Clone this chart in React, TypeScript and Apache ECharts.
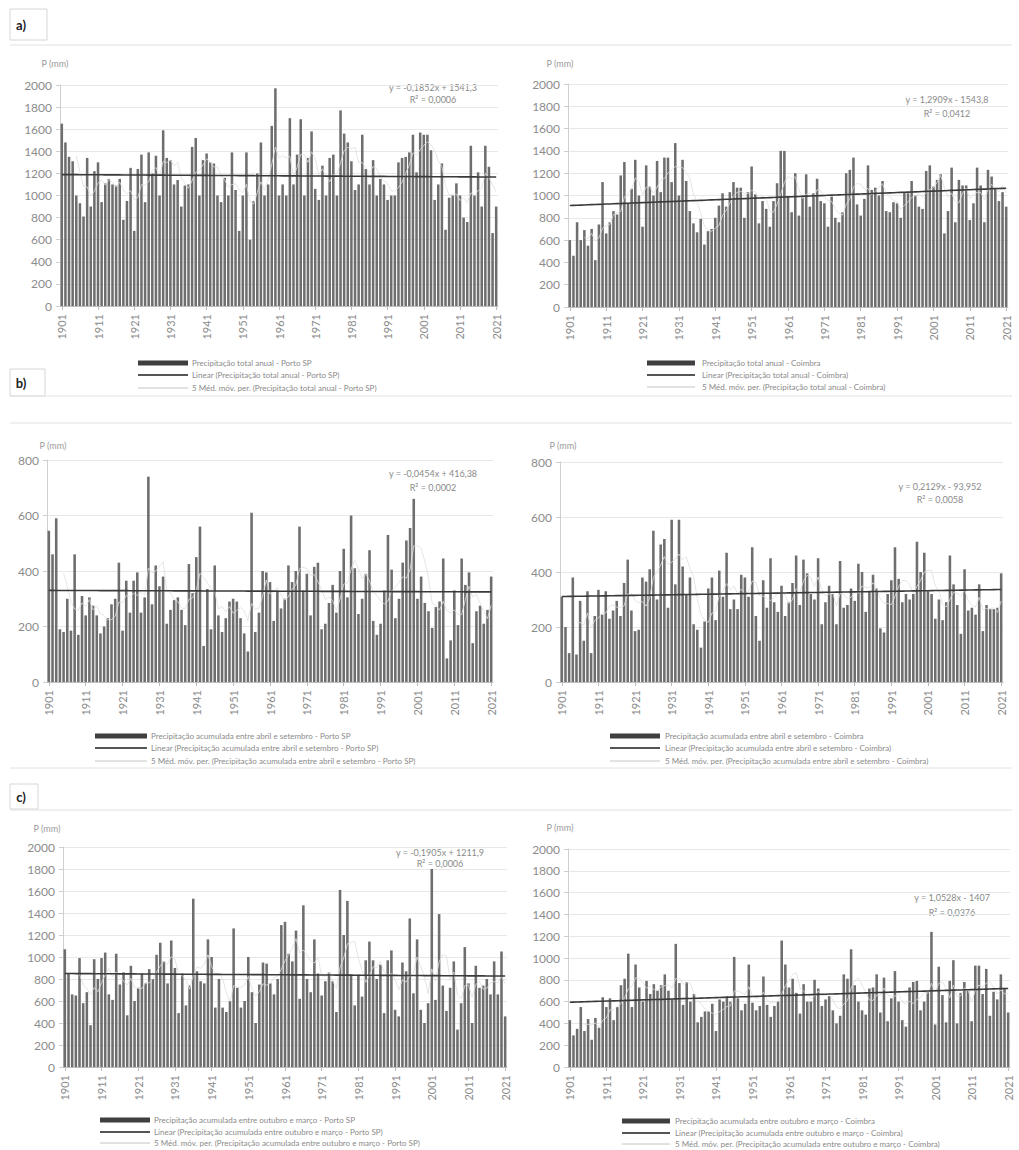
import React, { useEffect, useRef } from "react";
import * as echarts from "echarts";

// ---------- DATA ----------
const YEARS: string[] = [];
for (let y = 1901; y <= 2021; y++) YEARS.push(String(y));

const annualPortoSP = [
  1650, 1480, 1350, 1310, 1000, 930, 810, 1340, 900, 1220,
  1300, 940, 1110, 1150, 1100, 1090, 1150, 780, 950, 1250,
  680, 1240, 1370, 940, 1390, 1200, 1360, 1000, 1590, 1340,
  1320, 1100, 1140, 900, 1090, 1100, 1440, 1520, 1000, 1320,
  1380, 1300, 1290, 1000, 940, 1160, 1000, 1390, 1050, 680,
  1000, 1390, 600, 950, 1200, 1480, 1000, 1100, 1630, 1970,
  1000, 1100, 1000, 1700, 1100, 1370, 1690, 1000, 1340, 1580,
  1060, 960, 1270, 1000, 1340, 1370, 1000, 1770, 1560, 1480,
  1310, 1050, 1100, 1550, 1240, 1100, 1320, 1000, 1150, 1100,
  960, 1000, 1000, 1300, 1340, 1350, 1390, 1550, 1210, 1570,
  1550, 1550, 1410, 960, 1100, 1290, 690, 980, 1000, 1110,
  1000, 800, 760, 1450, 1000, 1210, 900, 1450, 1260, 660,
  900,
];

const annualCoimbra = [
  600, 460, 760, 600, 690, 550, 700, 420, 740, 1120,
  660, 760, 860, 830, 1180, 1300, 930, 1060, 1320, 1000,
  720, 1270, 1080, 1000, 1310, 1030, 1340, 1340, 1120, 1470,
  1000, 1320, 1130, 860, 750, 670, 790, 560, 680, 700,
  800, 910, 1020, 900, 1030, 1120, 1070, 1070, 800, 1030,
  1260, 1010, 750, 950, 880, 720, 950, 1110, 1400, 1400,
  990, 850, 1200, 820, 1000, 1190, 900, 1020, 1150, 950,
  930, 720, 990, 800, 760, 850, 1200, 1230, 1340, 920,
  820, 970, 1270, 1050, 1070, 1000, 1130, 860, 850, 940,
  930, 800, 1030, 1020, 1130, 1000, 900, 880, 1220, 1270,
  1080, 1140, 1190, 660, 860, 1250, 760, 1140, 1090, 1090,
  780, 930, 1250, 1090, 760, 1230, 1170, 1060, 950, 1030,
  900,
];

const aprSepPortoSP = [
  545, 460, 590, 190, 180, 300, 185, 460, 170, 310,
  240, 305, 275, 240, 175, 200, 230, 280, 300, 430,
  185, 365, 250, 365, 395, 250, 305, 740, 280, 420,
  345, 380, 210, 260, 295, 305, 260, 205, 425, 320,
  450, 560, 130, 335, 190, 420, 240, 180, 230, 290,
  300, 290, 230, 175, 110, 610, 180, 250, 400, 395,
  360, 220, 330, 265, 300, 420, 360, 400, 560, 330,
  390, 240, 415, 430, 190, 210, 285, 350, 250, 400,
  480, 305, 600, 410, 245, 300, 390, 475, 220, 170,
  210, 330, 530, 405, 230, 300, 430, 510, 555, 660,
  300, 380, 285, 255, 195, 270, 290, 445, 85, 150,
  330, 205, 445, 350, 395, 140, 255, 275, 210, 260,
  380,
];

const aprSepCoimbra = [
  310, 200, 105, 380, 100, 295, 150, 330, 105, 240,
  335, 245, 330, 230, 260, 295, 240, 360, 445, 260,
  185, 190, 380, 365, 410, 550, 300, 500, 520, 270,
  590, 355, 590, 420, 320, 380, 210, 190, 125, 220,
  340, 380, 225, 405, 310, 470, 265, 300, 265, 390,
  380, 310, 490, 240, 150, 370, 270, 450, 290, 255,
  350, 240, 290, 360, 460, 280, 445, 395, 320, 300,
  450, 210, 290, 350, 320, 210, 440, 270, 280, 340,
  295, 430, 400, 255, 330, 390, 340, 195, 180, 320,
  370, 490, 375, 290, 320, 300, 320, 510, 400, 470,
  330, 320, 230, 300, 225, 290, 460, 355, 280, 175,
  410, 260, 270, 245, 355, 185, 280, 265, 265, 270,
  395,
];

const octMarPortoSP = [
  1070, 850, 660, 650, 990, 580, 680, 380, 980, 800,
  990, 1040, 660, 610, 1030, 750, 860, 470, 920, 600,
  720, 850, 760, 890, 800, 1020, 1130, 960, 760, 1150,
  900, 490, 850, 560, 740, 1530, 870, 780, 760, 1160,
  1000, 540, 800, 540, 500, 600, 1260, 720, 540, 600,
  1000, 680, 400, 750, 950, 940, 760, 660, 800, 1290,
  1320, 1030, 960, 1240, 620, 1470, 800, 680, 1160, 850,
  650, 780, 860, 780, 500, 1610, 1200, 1510, 840, 560,
  840, 640, 970, 1140, 970, 800, 930, 490, 970, 1060,
  520, 460, 950, 870, 1350, 670, 1160, 520, 400, 580,
  1800, 610, 1390, 740, 510, 720, 960, 340, 580, 1090,
  760, 400, 920, 720, 740, 800, 660, 960, 660, 1050,
  460,
];

const octMarCoimbra = [
  430, 290, 350, 550, 330, 440, 250, 450, 360, 640,
  550, 630, 430, 550, 750, 810, 1040, 550, 940, 730,
  600, 790, 670, 760, 700, 750, 850, 700, 620, 1130,
  770, 570, 780, 600, 670, 410, 460, 510, 510, 580,
  330, 620, 600, 650, 600, 1010, 630, 520, 580, 940,
  590, 520, 560, 830, 570, 460, 560, 600, 1160, 940,
  730, 810, 680, 490, 760, 600, 600, 800, 720, 560,
  620, 650, 520, 400, 470, 850, 810, 1080, 750, 600,
  520, 480, 720, 730, 850, 500, 820, 420, 630, 880,
  600, 430, 370, 730, 780, 790, 520, 600, 690, 1240,
  390, 920, 660, 410, 790, 980, 400, 680, 780, 700,
  420, 930, 930, 670, 900, 470, 690, 620, 850, 720,
  500,
];

// trend line coefficients (x = year) and shown texts
const trendSlopes = [-0.1852, 1.2909, -0.0454, 0.2129, -0.1905, 1.0528];
const trendIntercepts = [1541.3, -1543.8, 416.38, -93.952, 1211.9, -1407];
const eqTexts = [
  "y = -0,1852x + 1541,3",
  "y = 1,2909x - 1543,8",
  "y = -0,0454x + 416,38",
  "y = 0,2129x - 93,952",
  "y = -0,1905x + 1211,9",
  "y = 1,0528x - 1407",
];
const r2Texts = ["R² = 0,0006", "R² = 0,0412", "R² = 0,0002", "R² = 0,0058", "R² = 0,0006", "R² = 0,0376"];
const seriesTitles = [
  "Precipitação total anual - Porto SP",
  "Precipitação total anual - Coimbra",
  "Precipitação acumulada entre abril e setembro - Porto SP",
  "Precipitação acumulada entre abril e setembro - Coimbra",
  "Precipitação acumulada entre outubro e março - Porto SP",
  "Precipitação acumulada entre outubro e março - Coimbra",
];
const yMaxes = [2000, 2000, 800, 800, 2000, 2000];
const panelLetters = ["a)", "b)", "c)"];
const yAxisTitle = "P (mm)";

const seriesData = [annualPortoSP, annualCoimbra, aprSepPortoSP, aprSepCoimbra, octMarPortoSP, octMarCoimbra];

// ---------- LAYOUT ----------
const grids = [
  { left: 60, top: 85, width: 438, height: 221 },
  { left: 568, top: 84, width: 440, height: 223 },
  { left: 47, top: 460, width: 446, height: 222 },
  { left: 560, top: 462, width: 443, height: 220 },
  { left: 63, top: 847, width: 444, height: 220 },
  { left: 568, top: 849, width: 442, height: 218 },
];
const pmmPos = [[55, 63], [560, 63], [53, 445], [563, 445], [47, 828], [560, 827]];
const eqPos = [[433, 87, 99], [947, 99, 113], [433, 473, 487], [940, 486, 499], [440, 852, 863], [952, 897, 912]];
const legendPos = [
  { x0: 138, x1: 188, tx: 192, ys: [363, 375, 388] },
  { x0: 647, x1: 695, tx: 702, ys: [363, 375, 387] },
  { x0: 95, x1: 147, tx: 151, ys: [736, 748, 761] },
  { x0: 610, x1: 660, tx: 665, ys: [736, 748, 761] },
  { x0: 100, x1: 150, tx: 154, ys: [1120, 1132, 1143] },
  { x0: 622, x1: 670, tx: 675, ys: [1121, 1133, 1144] },
];

const FONT = "Lato, 'Open Sans', sans-serif";
const BAR = "#6e6e6e";
const TREND = "#3a3a3a";
const MA = "#dedede";
const LABEL = "#8c8c8c";

function movingAvg(arr: number[], n: number) {
  return arr.map((_, i) => {
    if (i < n - 1) return null;
    let s = 0;
    for (let j = i - n + 1; j <= i; j++) s += arr[j];
    return +(s / n).toFixed(1);
  });
}

function buildOption() {
  const grid: any[] = [];
  const xAxis: any[] = [];
  const yAxis: any[] = [];
  const series: any[] = [];
  const graphic: any[] = [];

  seriesData.forEach((data, k) => {
    grid.push({ ...grids[k], containLabel: false });
    xAxis.push({
      type: "category",
      gridIndex: k,
      data: YEARS,
      boundaryGap: true,
      axisLine: { show: true, lineStyle: { color: "#bdbdbd", width: 1 } },
      axisTick: { show: true, interval: 9, alignWithLabel: true, length: 4, lineStyle: { color: "#bdbdbd" } },
      axisLabel: { interval: 9, rotate: 90, fontSize: 11, color: LABEL, fontFamily: FONT, margin: 8 },
      splitLine: { show: false },
    });
    yAxis.push({
      type: "value",
      gridIndex: k,
      min: 0,
      max: yMaxes[k],
      interval: 200,
      axisLine: { show: true, lineStyle: { color: "#cfcfcf" } },
      axisTick: { show: true, length: 4, lineStyle: { color: "#cfcfcf" } },
      axisLabel: { fontSize: 12, color: LABEL, fontFamily: FONT, margin: 8, formatter: (v: number) => String(v) },
      splitLine: { show: true, lineStyle: { color: "#e8e8e8", width: 1 } },
    });
    const slope = trendSlopes[k];
    const icpt = trendIntercepts[k];
    const trend = YEARS.map((y) => +(slope * Number(y) + icpt).toFixed(2));
    series.push({
      type: "bar",
      name: seriesTitles[k],
      xAxisIndex: k,
      yAxisIndex: k,
      data,
      barCategoryGap: "30%",
      itemStyle: { color: BAR },
      z: 2,
    });
    series.push({
      type: "line",
      name: "5 Méd. móv. per. (" + seriesTitles[k] + ")",
      xAxisIndex: k,
      yAxisIndex: k,
      data: movingAvg(data, 5),
      symbol: "none",
      lineStyle: { color: MA, width: 0.8 },
      z: 3,
    });
    series.push({
      type: "line",
      name: "Linear (" + seriesTitles[k] + ")",
      xAxisIndex: k,
      yAxisIndex: k,
      data: trend,
      symbol: "none",
      lineStyle: { color: TREND, width: 1.6 },
      z: 4,
    });

    graphic.push({
      type: "text",
      x: pmmPos[k][0],
      y: pmmPos[k][1],
      style: { text: yAxisTitle, fill: "#9a9a9a", fontSize: 9, fontFamily: FONT, textAlign: "center", textVerticalAlign: "middle" },
    });
    graphic.push({
      type: "text",
      x: eqPos[k][0],
      y: eqPos[k][1],
      style: { text: eqTexts[k], fill: "#8a8a8a", fontSize: 9, fontFamily: FONT, textAlign: "center", textVerticalAlign: "middle" },
    });
    graphic.push({
      type: "text",
      x: eqPos[k][0],
      y: eqPos[k][2],
      style: { text: r2Texts[k], fill: "#8a8a8a", fontSize: 9, fontFamily: FONT, textAlign: "center", textVerticalAlign: "middle" },
    });
    const L = legendPos[k];
    graphic.push({ type: "rect", shape: { x: L.x0, y: L.ys[0] - 2.5, width: L.x1 - L.x0, height: 5 }, style: { fill: "#3f3f3f" } });
    graphic.push({ type: "line", shape: { x1: L.x0, y1: L.ys[1], x2: L.x1, y2: L.ys[1] }, style: { stroke: "#555", lineWidth: 2.2 } });
    graphic.push({ type: "line", shape: { x1: L.x0, y1: L.ys[2], x2: L.x1, y2: L.ys[2] }, style: { stroke: "#c4c4c4", lineWidth: 1 } });
    const legTexts = [seriesTitles[k], "Linear (" + seriesTitles[k] + ")", "5 Méd. móv. per. (" + seriesTitles[k] + ")"];
    legTexts.forEach((t, j) => {
      graphic.push({
        type: "text",
        x: L.tx,
        y: L.ys[j],
        style: { text: t, fill: "#8a8a8a", fontSize: 8, fontFamily: FONT, textAlign: "left", textVerticalAlign: "middle" },
      });
    });
  });

  const boxes = [
    { x: 10, y: 9, w: 37, h: 31, tx: 21, ty: 25 },
    { x: 10, y: 369, w: 35, h: 27, tx: 21, ty: 383 },
    { x: 10, y: 784, w: 28, h: 25, tx: 21, ty: 797 },
  ];
  boxes.forEach((b, i) => {
    graphic.push({ type: "rect", shape: { x: b.x, y: b.y, width: b.w, height: b.h }, style: { fill: "#fff", stroke: "#d6d6d6", lineWidth: 1 } });
    graphic.push({
      type: "text",
      x: b.tx,
      y: b.ty,
      style: { text: panelLetters[i], fill: "#222", fontSize: 13, fontWeight: "bold", fontFamily: FONT, textAlign: "center", textVerticalAlign: "middle" },
    });
  });
  [45, 396, 423, 768, 810].forEach((yy) => {
    graphic.push({ type: "line", shape: { x1: 10, y1: yy, x2: 1012, y2: yy }, style: { stroke: "#e2e2e2", lineWidth: 1 } });
  });

  return {
    animation: false,
    backgroundColor: "#ffffff",
    grid,
    xAxis,
    yAxis,
    series,
    graphic,
  };
}

export default function App() {
  const ref = useRef<HTMLDivElement>(null);
  useEffect(() => {
    if (!ref.current) return;
    const chart = echarts.init(ref.current, undefined, { renderer: "svg" });
    chart.setOption(buildOption() as any);
    return () => chart.dispose();
  }, []);
  return (
    <div
      ref={ref}
      style={{ position: "absolute", left: 0, top: 0, width: 1019, height: 1150, background: "#fff" }}
    />
  );
}
